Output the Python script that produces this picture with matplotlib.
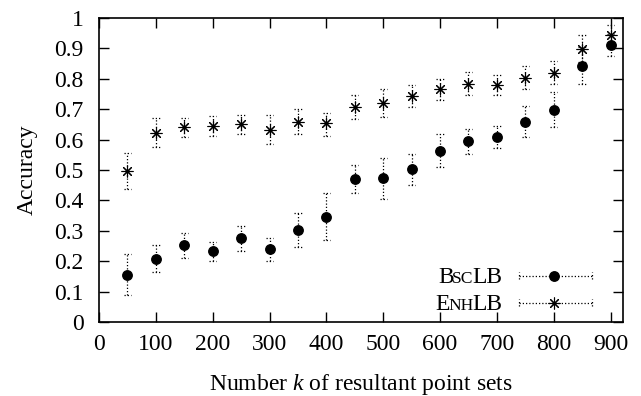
import matplotlib
matplotlib.use("Agg")
import matplotlib.pyplot as plt
import numpy as np

# values
k_values = [50, 100, 150, 200, 250, 300, 350, 400, 450,
            500, 550, 600, 650, 700, 750, 800, 850, 900]

bsc_mean = [0.154, 0.208, 0.252, 0.232, 0.275, 0.239, 0.304, 0.345, 0.470,
            0.472, 0.502, 0.564, 0.595, 0.610, 0.657, 0.698, 0.841, 0.912]
bsc_low = [0.088, 0.163, 0.212, 0.202, 0.235, 0.200, 0.248, 0.269, 0.423,
           0.406, 0.450, 0.510, 0.554, 0.571, 0.607, 0.640, 0.782, 0.876]
bsc_high = [0.223, 0.253, 0.294, 0.262, 0.315, 0.277, 0.360, 0.425, 0.518,
            0.538, 0.554, 0.620, 0.634, 0.645, 0.710, 0.755, 0.905, 0.948]

enh_mean = [0.496, 0.623, 0.641, 0.644, 0.651, 0.633, 0.658, 0.653, 0.708,
            0.722, 0.744, 0.765, 0.784, 0.780, 0.804, 0.820, 0.899, 0.943]
enh_low = [0.437, 0.574, 0.607, 0.611, 0.620, 0.587, 0.618, 0.611, 0.669,
           0.675, 0.708, 0.729, 0.746, 0.747, 0.767, 0.782, 0.854, 0.910]
enh_high = [0.557, 0.672, 0.672, 0.676, 0.682, 0.680, 0.702, 0.687, 0.748,
            0.766, 0.779, 0.800, 0.821, 0.812, 0.841, 0.858, 0.945, 0.976]

y_ticks = [0, 0.1, 0.2, 0.3, 0.4, 0.5, 0.6, 0.7, 0.8, 0.9, 1]
y_tick_labels = ["0", "0.1", "0.2", "0.3", "0.4", "0.5", "0.6", "0.7", "0.8", "0.9", "1"]
x_ticks = [0, 100, 200, 300, 400, 500, 600, 700, 800, 900]

plt.rcParams["font.family"] = ["Liberation Serif", "DejaVu Serif"]
plt.rcParams["mathtext.fontset"] = "custom"
plt.rcParams["mathtext.rm"] = "Liberation Serif"
plt.rcParams["mathtext.it"] = "Liberation Serif:italic"

FS = 17
DOTS = (0, (1, 1.6))
STAR = (8, 2, 0)

fig = plt.figure(figsize=(6.41, 3.96), dpi=100)
ax = fig.add_axes([0.1545, 0.187, 0.8175, 0.7675])


def draw_series(x, mean, low, high, marker, ms, mew):
    x = np.array(x)
    mean = np.array(mean)
    low = np.array(low)
    high = np.array(high)
    eb = ax.errorbar(x, mean, yerr=[mean - low, high - mean], fmt="none",
                     ecolor="black", elinewidth=0.9, capsize=0)
    eb[2][0].set_linestyle(DOTS)
    # dotted caps
    for ends in (low, high):
        ax.hlines(ends, x - 6.5, x + 6.5, colors="black", linewidth=0.9,
                  linestyles=[DOTS])
    ax.plot(x, mean, linestyle="none", marker=marker, markersize=ms,
            color="black", markeredgewidth=mew)


draw_series(k_values, bsc_mean, bsc_low, bsc_high, "o", 6.8, 1.0)
draw_series(k_values, enh_mean, enh_low, enh_high, STAR, 8.5, 0.8)

ax.set_xlim(0, 922)
ax.set_ylim(0, 1)
ax.set_xticks(x_ticks)
ax.set_yticks(y_ticks)
ax.set_yticklabels(y_tick_labels)
ax.tick_params(direction="in", top=True, right=True, length=7, width=1,
               labelsize=FS)
ax.tick_params(axis="x", pad=9)
ax.tick_params(axis="y", pad=11)
for s in ax.spines.values():
    s.set_linewidth(1.2)

ax.set_xlabel("Number $k$ of resultant point sets", fontsize=FS, labelpad=12)
ax.set_ylabel("Accuracy", fontsize=FS, labelpad=12)


# legend drawn by hand, gnuplot style with small caps labels
def smallcaps(parts, x, y):
    prev = None
    for txt, size in reversed(parts):
        if prev is None:
            prev = ax.text(x, y, txt, transform=ax.transAxes, ha="right",
                           va="baseline", fontsize=size)
        else:
            prev = ax.annotate(txt, xy=(0, y), xycoords=(prev, ax.transAxes),
                               xytext=(1.2, 0), textcoords="offset points",
                               ha="right", va="baseline", fontsize=size)


def legend_sample(y, marker, ms, mew):
    x0, x1, xm = 0.8015, 0.941, 0.868
    ax.plot([x0, x1], [y, y], transform=ax.transAxes, color="black",
            linewidth=0.9, linestyle=DOTS, clip_on=False)
    for xe in (x0, x1):
        ax.plot([xe, xe], [y - 0.011, y + 0.011], transform=ax.transAxes,
                color="black", linewidth=0.9, linestyle=DOTS, clip_on=False)
    ax.plot([xm], [y], transform=ax.transAxes, marker=marker, markersize=ms,
            color="black", linestyle="none", markeredgewidth=mew)


smallcaps([("B", FS), ("SC", FS * 0.74), ("LB", FS)], 0.769, 0.128)
smallcaps([("E", FS), ("NH", FS * 0.74), ("LB", FS)], 0.769, 0.039)
legend_sample(0.152, "o", 6.8, 1.0)
legend_sample(0.063, STAR, 8.5, 0.8)

fig.savefig("out.png", dpi=100)
